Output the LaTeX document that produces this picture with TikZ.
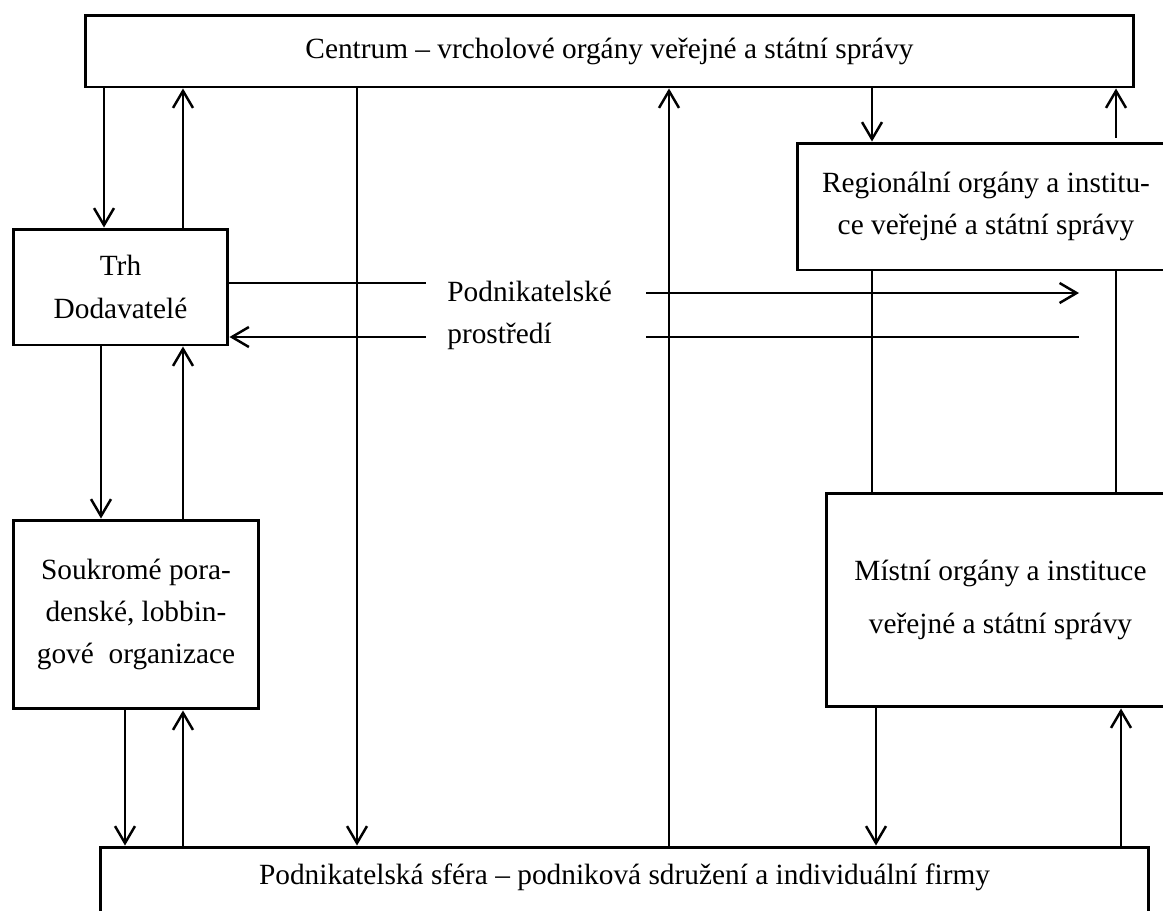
\documentclass[tikz,border=0pt]{standalone}
\usepackage{fontspec}
\setmainfont{Liberation Serif}
\usetikzlibrary{arrows.meta}

\tikzset{
  box/.style={draw, line width=1.7pt, align=center, inner sep=0pt,
    font=\fontsize{16.7}{24}\selectfont},
  popis/.style={inner sep=0pt, font=\fontsize{16.7}{24}\selectfont},
  sipka/.style={line width=1.4pt, -{Straight Barb[length=3.4mm,width=4mm]}},
  tenka/.style={line width=0.7pt},
}

\begin{document}
\begin{tikzpicture}[x=0.02cm, y=-0.02cm]
\useasboundingbox (0,0) rectangle (1163,910);

% Bloky
\node[box, minimum width=20.98cm, minimum height=1.44cm] (centrum) at (609.5,51) {Centrum – vrcholové orgány veřejné a státní správy};
\node[box, minimum width=4.3cm, minimum height=2.32cm] (trh) at (120.5,287) {Trh\\Dodavatelé};
\node[box, minimum width=4.92cm, minimum height=3.78cm] (souk) at (136,614.5) {Soukromé pora-\\denské, lobbin-\\gové~ organizace};
\node[box, minimum width=7.56cm, minimum height=2.54cm] (region) at (986,206.5) {Regionální orgány a institu-\\ce veřejné a státní správy};
\node[box, minimum width=6.98cm, minimum height=4.28cm] (mistni) at (1000.5,600) {Místní orgány a instituce\\[6pt]veřejné a státní správy};
\node[box, minimum width=20.98cm, minimum height=1.76cm] (podnik) at (624.5,891) {};
\node[popis] (podniktext) at (624.5,877) {Podnikatelská sféra – podniková sdružení a individuální firmy};

% Podnikatelske prostredi
\node[popis, anchor=west, align=left] (prostredi) at (447,315) {Podnikatelské\\prostředí};

% Svisle osy sipek
\coordinate (a1) at (104,0);
\coordinate (a2) at (183,0);
\coordinate (a3) at (101,0);
\coordinate (a4) at (125,0);
\coordinate (a5) at (357,0);
\coordinate (a6) at (872,0);
\coordinate (a7) at (1116,0);
\coordinate (a8) at (876,0);
\coordinate (a9) at (1121,0);

% Levy sloupec
\draw[sipka] (a1 |- centrum.south) -- (a1 |- trh.north);
\draw[sipka] (a2 |- trh.north) -- (a2 |- centrum.south);
\draw[sipka] (a3 |- trh.south) -- (a3 |- souk.north);
\draw[sipka] (a2 |- souk.north) -- (a2 |- trh.south);
\draw[sipka] (a4 |- souk.south) -- (a4 |- podnik.north);
\draw[sipka] (a2 |- podnik.north) -- (a2 |- souk.south);

% Stredni osy
\draw[sipka] (a5 |- centrum.south) -- (a5 |- podnik.north);
\coordinate (m1) at (669,363);
\coordinate (m2) at (669,254);
\draw[line width=1.4pt] (m1 |- podnik.north) -- (m1);
\draw[tenka] (m1) -- (m2);
\draw[sipka] (m2) -- (m2 |- centrum.south);

% Pravy sloupec
\draw[sipka] (a6 |- centrum.south) -- (a6 |- region.north);
\draw[sipka, shorten <=0.08cm] (a7 |- region.north) -- (a7 |- centrum.south);
\draw[tenka] (a6 |- region.south) -- (a6 |- mistni.north);
\draw[tenka] (a7 |- region.south) -- (a7 |- mistni.north);
\draw[sipka] (a8 |- mistni.south) -- (a8 |- podnik.north);
\draw[sipka] (a9 |- podnik.north) -- (a9 |- mistni.south);

% Vodorovne cary
\coordinate (h1) at (426,283);
\coordinate (h2) at (426,337);
\coordinate (h3) at (646,293);
\coordinate (h4) at (1079,293);
\coordinate (h5) at (646,337);
\coordinate (h6) at (1079,337);
\draw[tenka] (h1 -| trh.east) -- (h1);
\draw[sipka] (h2) -- (h2 -| trh.east);
\draw[sipka] (h3) -- (h4);
\draw[tenka] (h5) -- (h6);

\end{tikzpicture}
\end{document}
